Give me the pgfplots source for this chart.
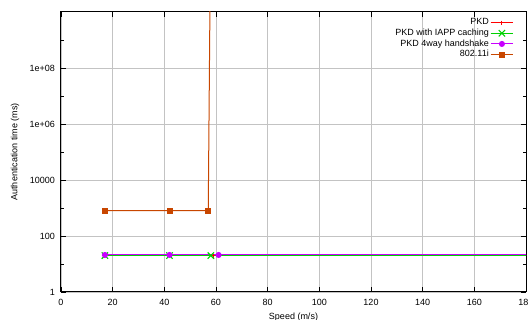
\documentclass[border=0pt]{standalone}
\usepackage{fontspec}
\setmainfont{Liberation Sans}
\usepackage{pgfplots}
\pgfplotsset{compat=1.18}
\definecolor{pkdred}{RGB}{255,0,0}
\definecolor{iappgreen}{RGB}{0,210,0}
\definecolor{wayviolet}{RGB}{200,0,255}
\definecolor{ieeeorange}{RGB}{200,70,0}
\definecolor{gridgray}{RGB}{195,195,195}
\begin{document}
\fontsize{9}{10.8}\selectfont
\begin{tikzpicture}
\path[use as bounding box] (0,0) rectangle (528pt,320pt);
\clip (0,0) rectangle (528pt,320pt);
\begin{axis}[
  at={(61pt,28pt)}, anchor=south west,
  width=465pt, height=280pt, scale only axis,
  xmin=0, xmax=180, ymin=1, ymax=1e10,
  ymode=log,
  xtick={0,20,...,180},
  ytick={1,100,10000,1e6,1e8},
  yticklabels={1,100,10000,1e+06,1e+08},
  minor ytick={10,1000,1e5,1e7,1e9},
  /pgf/number format/assume math mode=true,
  tick label style={font=\fontsize{9}{10.8}\selectfont},
  label style={font=\fontsize{9}{10.8}\selectfont},
  xlabel={Speed (m/s)},
  ylabel={Authentication time (ms)},
  xlabel style={at={(axis description cs:0.5,0)}, anchor=north, yshift=-17.5pt},
  ylabel style={at={(axis description cs:-0.0989,0.5)}, anchor=center},
  xticklabel style={yshift=-4.5pt},
  yticklabel style={xshift=-3pt},
  major tick length=5pt, minor tick length=3pt,
  tick style={black, line width=0.6pt},
  tick align=inside,
  grid=major,
  major grid style={gridgray, line width=0.8pt},
  axis line style={black, line width=1pt},
  legend plot pos=right,
  legend cell align=right,
  legend style={at={(1,1)}, anchor=north east, xshift=-9pt, yshift=-3pt,
    draw=none, fill=none,
    font=\fontsize{9}{10.8}\selectfont, row sep=0pt,
    nodes={inner sep=1.2pt, text height=6.5pt, text depth=1.8pt}},
  legend image code/.code={\draw[mark repeat=2,mark phase=2,#1] plot coordinates {(0cm,0cm) (0.4cm,0cm) (0.8cm,0cm)};},
]
\addplot[pkdred, line width=1pt, mark=+, mark size=2pt] coordinates {(17,20) (42,20) (59,20) (300,20)};
\addlegendentry{PKD}
\addplot[iappgreen, line width=1pt, mark=x, mark size=4.5pt, mark options={line width=1.1pt}] coordinates {(17,20) (42,20) (58,20) (300,20)};
\addlegendentry{PKD with IAPP caching}
\addplot[wayviolet, line width=1pt, mark=*, mark size=2.5pt] coordinates {(17,21) (42,21) (61,21) (300,21)};
\addlegendentry{PKD 4way handshake}
\addplot[ieeeorange, line width=1pt, mark=square*, mark size=2.5pt] coordinates {(17,800) (42,800) (57,800) (58,1e14)};
\addlegendentry{802.11i}
\end{axis}
\end{tikzpicture}
\end{document}
